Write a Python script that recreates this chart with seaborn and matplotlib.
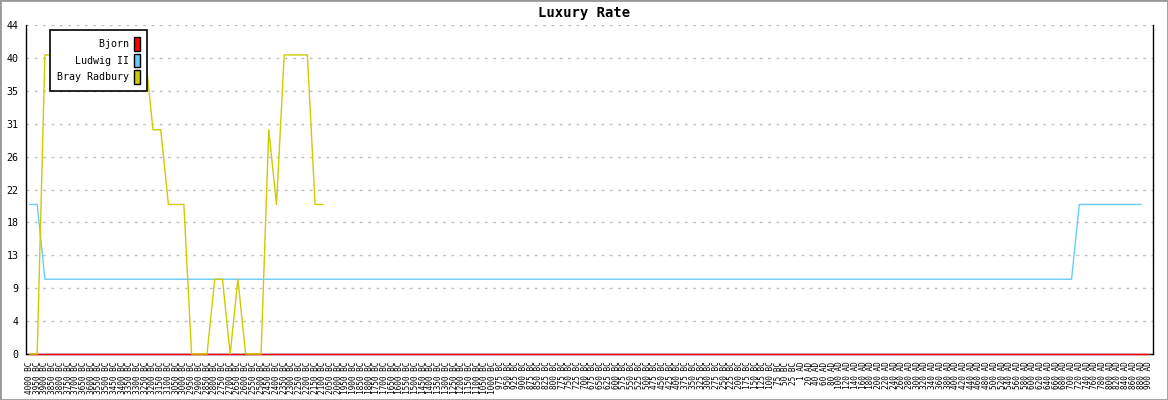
import numpy as np
import pandas as pd
import matplotlib
matplotlib.use("Agg")
import matplotlib.pyplot as plt
import seaborn as sns
from matplotlib.patches import Patch, Rectangle

# x axis: game turns as calendar dates
bc_years = list(range(4000, 999, -50)) + list(range(975, 0, -25))
ad_years = [1] + list(range(20, 901, 20))
turn_labels = [f"{y} BC" for y in bc_years] + [f"{y} AD" for y in ad_years]

players = ["Bjorn", "Ludwig II", "Bray Radbury"]
colors = ["#ff0000", "#66ccff", "#cccc00"]

# luxury rate per turn
bjorn = [0] * 146
ludwig = [20, 20] + [10] * 134 + [20] * 9 + [np.nan]
bray = ([0, 0] + [40] * 14 + [30, 30] + [20] * 3 + [0] * 3
        + [10, 10, 0, 10] + [0] * 3 + [30, 20] + [40] * 4 + [20, 20])
bray = bray + [np.nan] * (146 - len(bray))

ytick_labels = ["0", "4", "9", "13", "18", "22", "26", "31", "35", "40", "44"]
y_max = 44

df = pd.DataFrame({
    "turn": list(range(146)) * 3,
    "rate": bjorn + ludwig + bray,
    "player": [p for p in players for _ in range(146)],
})

sns.set_style("white")
plt.rcParams.update({"text.color": "black", "xtick.color": "black",
                     "ytick.color": "black", "axes.labelcolor": "black"})
mono = "DejaVu Sans Mono"

fig = plt.figure(figsize=(11.68, 4.0), dpi=100)
ax = fig.add_axes([26 / 1168, 46 / 400, 1127 / 1168, 329 / 400])

sns.lineplot(data=df, x="turn", y="rate", hue="player", hue_order=players,
             palette=colors, estimator=None, linewidth=1, legend=False, ax=ax)
for line in ax.lines:
    line.set_zorder(3)
    line.set_clip_on(False)

ax.set_xlim(-0.45, 145.55)
ax.set_ylim(0, y_max)
ax.set_xticks(range(len(turn_labels)))
ax.set_xticklabels(turn_labels, rotation=90, fontsize=5.6, family=mono)
ax.set_yticks(np.linspace(0, y_max, len(ytick_labels)))
ax.set_yticklabels(ytick_labels, fontsize=7.2, family=mono)
ax.tick_params(axis="x", length=0, pad=5.5)
ax.tick_params(axis="y", direction="inout", length=6.5, width=1, pad=2, color="black")
ax.set_xlabel("")
ax.set_ylabel("")

ax.yaxis.grid(True, color="#c0c0c0", linestyle=(0, (2, 4)), linewidth=1)
ax.xaxis.grid(False)
for side in ["left", "bottom", "right"]:
    ax.spines[side].set_color("black")
    ax.spines[side].set_linewidth(1)
ax.spines["top"].set_visible(False)

handles = [Patch(facecolor=c, edgecolor="black", linewidth=1) for c in colors]
width = max(len(p) for p in players)
labels = [p.rjust(width) for p in players]
leg = ax.legend(handles, labels, loc="upper left", bbox_to_anchor=(0.0213, 0.985),
                borderaxespad=0, markerfirst=False, frameon=True, fancybox=False,
                edgecolor="black", framealpha=1, handlelength=0.6, handleheight=1.75,
                handletextpad=0.5, labelspacing=0.28, borderpad=0.7,
                prop={"family": mono, "size": 7.2})
leg.get_frame().set_linewidth(1.2)

fig.text(0.5, 1 - 13 / 400, "Luxury Rate", ha="center", va="center",
         fontsize=10, family=mono, weight="bold")
fig.patches.append(Rectangle((0, 0), 1, 1, transform=fig.transFigure, fill=False,
                             edgecolor="#999999", linewidth=2))

fig.savefig("out.png", dpi=100)
